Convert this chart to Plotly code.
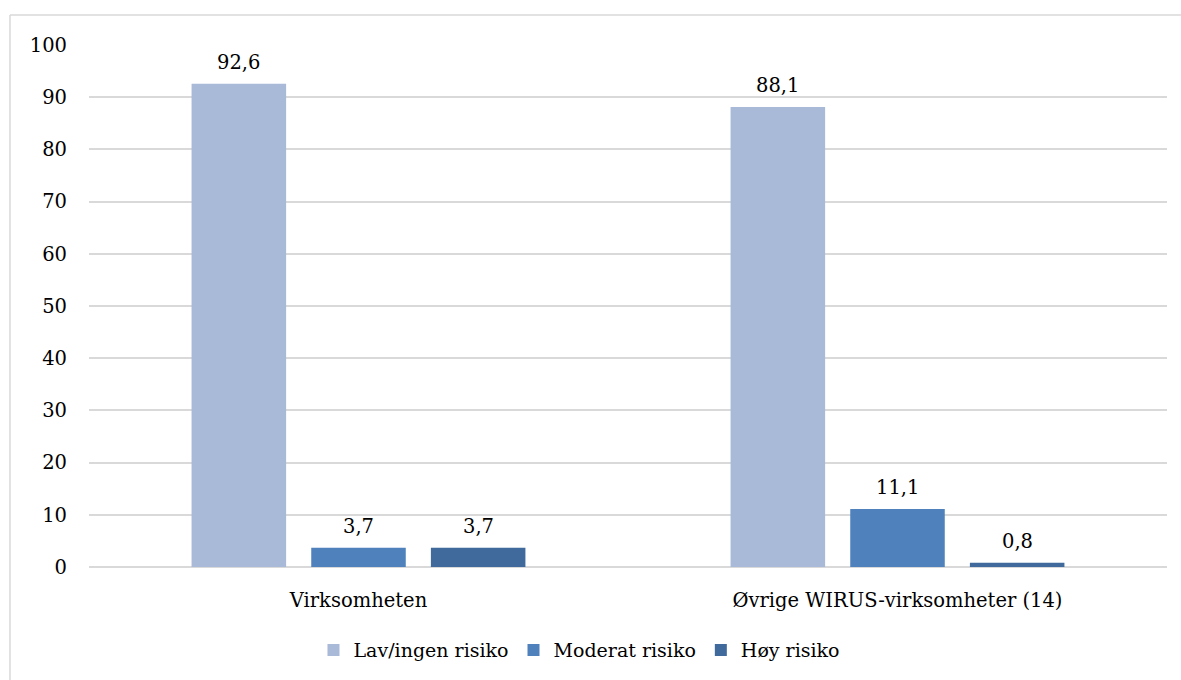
import plotly.graph_objects as go

categories = ["Virksomheten", "Øvrige WIRUS-virksomheter (14)"]
series_names = ["Lav/ingen risiko", "Moderat risiko", "Høy risiko"]
lav = [92.6, 88.1]
moderat = [3.7, 11.1]
hoy = [3.7, 0.8]
series_values = [lav, moderat, hoy]
colors = ["#A9B9D8", "#4F81BD", "#3F6A9B"]
y_ticks = [0, 10, 20, 30, 40, 50, 60, 70, 80, 90, 100]

FONT = "DejaVu Serif"
FS = 19.5

fig = go.Figure()
for name, vals, col in zip(series_names, series_values, colors):
    fig.add_trace(go.Bar(
        x=categories, y=vals, name=name,
        marker=dict(color=col, line=dict(width=0)),
    ))

# data labels
shifts = [-120, 0, 120]
for vals, xs in zip(series_values, shifts):
    for c, v in zip(categories, vals):
        fig.add_annotation(
            x=c, y=v, text=f"{v:.1f}".replace(".", ","),
            showarrow=False, xshift=xs, yshift=8, yanchor="bottom",
            font=dict(family=FONT, size=FS, color="#000000"),
        )

# outer frame (left and top edges; the rest lies outside the picture)
frame = dict(color="#D9D9D9", width=1.5)
fig.add_shape(type="line", xref="paper", yref="paper",
              x0=-0.0733, x1=-0.0733, y0=-0.3, y1=1.0574, line=frame, layer="below")
fig.add_shape(type="line", xref="paper", yref="paper",
              x0=-0.0733, x1=1.05, y0=1.0574, y1=1.0574, line=frame, layer="below")

fig.update_layout(
    width=1181, height=680,
    margin=dict(l=89, r=14, t=45, b=112),
    paper_bgcolor="white", plot_bgcolor="white",
    barmode="group", bargap=0.334, bargroupgap=0.21,
    font=dict(family=FONT, size=FS, color="#000000"),
    showlegend=True,
    legend=dict(orientation="h", x=0.455, xanchor="center", y=-0.157, yanchor="middle",
                font=dict(family=FONT, size=19, color="#000000"),
                itemwidth=30, tracegroupgap=0),
    xaxis=dict(showgrid=False, showline=False, ticks="", ticklabelstandoff=19,
               tickfont=dict(family=FONT, size=FS, color="#000000")),
    yaxis=dict(range=[0, 100], tickvals=y_ticks, showgrid=True, gridcolor="#D9D9D9", gridwidth=1.5,
               zeroline=True, zerolinecolor="#D9D9D9", zerolinewidth=1.5, showline=False,
               ticks="", ticklabelstandoff=21,
               tickfont=dict(family=FONT, size=FS, color="#000000")),
)

fig.write_html(
    "out.html",
    config={"displayModeBar": False},
    post_script="document.body.style.margin='0';document.body.style.overflow='hidden';"
                "document.documentElement.style.overflow='hidden';",
)
